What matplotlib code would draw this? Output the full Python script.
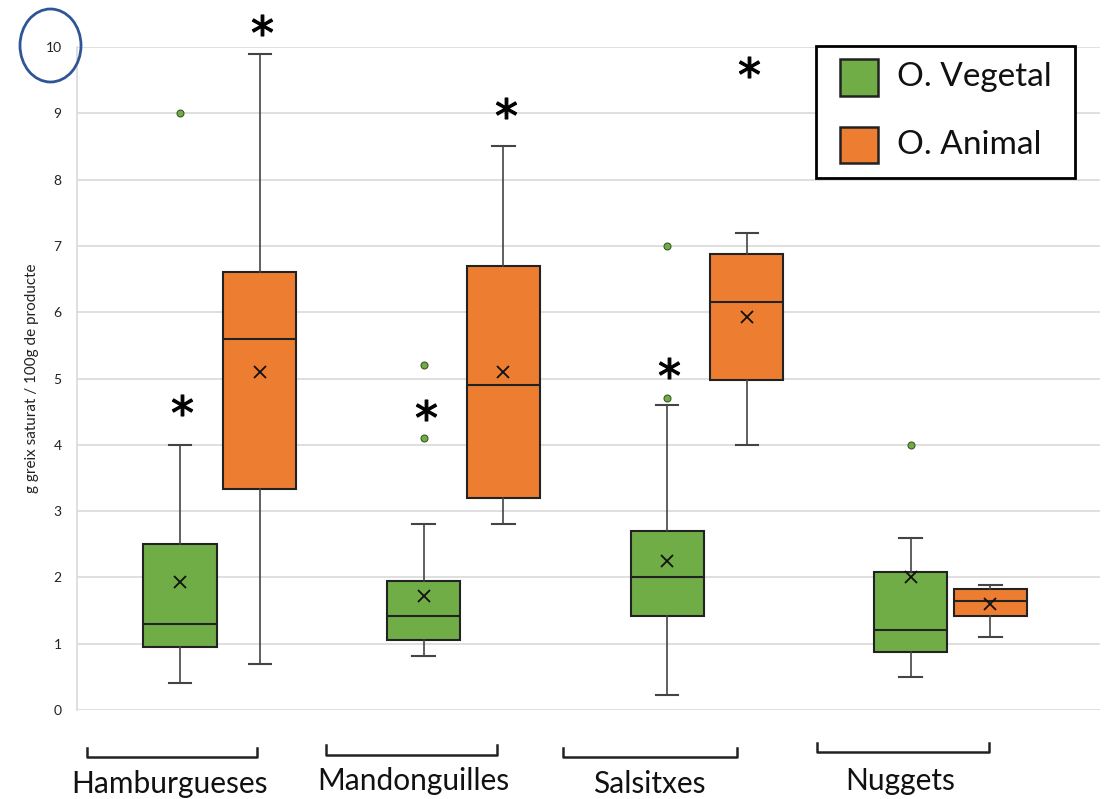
import matplotlib
matplotlib.use("Agg")
import matplotlib.pyplot as plt
from matplotlib.patches import Rectangle, Ellipse
from matplotlib.lines import Line2D

# ---- data -------------------------------------------------------------
categories = ["Hamburgueses", "Mandonguilles", "Salsitxes", "Nuggets"]

veg_whislo = [0.40, 0.82, 0.22, 0.50]
veg_q1     = [0.95, 1.05, 1.42, 0.88]
veg_med    = [1.30, 1.42, 2.00, 1.20]
veg_q3     = [2.50, 1.95, 2.70, 2.08]
veg_whishi = [4.00, 2.80, 4.60, 2.60]
veg_mean   = [1.93, 1.72, 2.25, 2.00]
veg_fliers = [[9.0], [5.2, 4.1], [7.0, 4.7], [4.0]]

ani_whislo = [0.70, 2.80, 4.00, 1.10]
ani_q1     = [3.33, 3.20, 4.98, 1.42]
ani_med    = [5.60, 4.90, 6.15, 1.65]
ani_q3     = [6.60, 6.70, 6.88, 1.82]
ani_whishi = [9.90, 8.50, 7.20, 1.88]
ani_mean   = [5.10, 5.10, 5.93, 1.60]
ani_fliers = [[], [], [], []]

# significance marks (height of the asterisk), None = no mark
sig_veg = [4.60, 4.52, 5.16, None]
sig_ani = [10.33, 9.08, 9.70, None]

yticks = list(range(0, 11))
ylabel = "g greix saturat / 100g de producte"
legend_labels = ["O. Vegetal", "O. Animal"]

GREEN = "#70AD47"
ORANGE = "#ED7D31"
FONT = ["Lato", "DejaVu Sans"]

W, H = 1107, 799
fig = plt.figure(figsize=(W / 100, H / 100), dpi=100)


def fx(px):
    return px / W


def fy(py):
    return 1 - py / H


ax = fig.add_axes([fx(77), fy(710), fx(1100) - fx(77), fy(47) - fy(710)])
ax.set_ylim(0, 10)
ax.set_xlim(-0.587, 3.614)

offset = 0.164
bw = 0.30


def stats(i, lo, q1, med, q3, hi, mean, fl):
    return dict(whislo=lo[i], q1=q1[i], med=med[i], q3=q3[i], whishi=hi[i],
                mean=mean[i], fliers=fl[i])


veg_stats = [stats(i, veg_whislo, veg_q1, veg_med, veg_q3, veg_whishi, veg_mean, veg_fliers)
             for i in range(len(categories))]
ani_stats = [stats(i, ani_whislo, ani_q1, ani_med, ani_q3, ani_whishi, ani_mean, ani_fliers)
             for i in range(len(categories))]

veg_pos = [i - offset for i in range(len(categories))]
ani_pos = [i + offset for i in range(len(categories))]

for st, pos, col in [(veg_stats, veg_pos, GREEN), (ani_stats, ani_pos, ORANGE)]:
    ax.bxp(st, positions=pos, widths=bw, capwidths=bw * 0.31,
           patch_artist=True, showmeans=True, manage_ticks=False,
           boxprops=dict(facecolor=col, edgecolor="#222222", linewidth=1.5),
           whiskerprops=dict(color="#444444", linewidth=1.2),
           capprops=dict(color="#444444", linewidth=1.5),
           medianprops=dict(color="#222222", linewidth=1.5),
           meanprops=dict(marker="x", markersize=9, markeredgecolor="#111111",
                          markeredgewidth=1.3),
           flierprops=dict(marker="o", markersize=5, markerfacecolor=GREEN,
                           markeredgecolor="#3a5a25", markeredgewidth=0.8),
           zorder=3)

# significance asterisks
for pos, sig in [(veg_pos, sig_veg), (ani_pos, sig_ani)]:
    for x, y in zip(pos, sig):
        if y is not None:
            ax.plot([x + 0.01], [y], marker="$*$", markersize=15, color="black",
                    markeredgewidth=0.9, linestyle="none", clip_on=False, zorder=5)

# axes styling
ax.set_yticks(yticks)
ax.set_yticklabels([str(t) for t in yticks], fontsize=10, family=FONT, color="#222222")
ax.tick_params(axis="y", length=0, pad=11)
ax.set_xticks([])
ax.grid(axis="y", color="#d9d9d9", linewidth=1.2, zorder=0)
ax.set_axisbelow(True)
for s in ["top", "right", "bottom"]:
    ax.spines[s].set_visible(False)
ax.spines["left"].set_color("#d9d9d9")
ax.spines["left"].set_linewidth(1.2)

fig.text(fx(32), fy(378), ylabel, rotation=90, ha="center", va="center",
         fontsize=11, family=FONT, color="#222222")

# category brackets and labels
brackets = [(87, 257, 748, 757), (326, 497, 745, 755), (563, 737, 748, 757), (817, 989, 743, 752)]
label_x = [170, 413, 649, 900]
label_y = [784, 781, 784, 781]
for (x0, x1, ytop, ybot), lx, ly, name in zip(brackets, label_x, label_y, categories):
    fig.add_artist(Line2D([fx(x0), fx(x0), fx(x1), fx(x1)],
                          [fy(ytop), fy(ybot), fy(ybot), fy(ytop)],
                          color="#222222", linewidth=1.8))
    fig.text(fx(lx), fy(ly), name, ha="center", va="center", fontsize=21.5,
             family=FONT, color="#111111")

# legend box
fig.add_artist(Rectangle((fx(816), fy(178)), fx(1075) - fx(816), fy(46) - fy(178),
                         transform=fig.transFigure, facecolor="white",
                         edgecolor="black", linewidth=2, zorder=6))
for (top, bot), col, lab in zip([(59, 96), (127, 163)], [GREEN, ORANGE], legend_labels):
    fig.add_artist(Rectangle((fx(840), fy(bot)), fx(878) - fx(840), fy(top) - fy(bot),
                             transform=fig.transFigure, facecolor=col,
                             edgecolor="#222222", linewidth=1.8, zorder=7))
    fig.text(fx(897), fy((top + bot) / 2), lab, ha="left", va="center",
             fontsize=24, family=FONT, color="#111111", zorder=7)

# highlight circle round the top tick
fig.add_artist(Ellipse((fx(50.5), fy(45.5)), fx(61), 73 / H, transform=fig.transFigure,
                       facecolor="none", edgecolor="#2F5597", linewidth=2, zorder=8))

fig.savefig("out.png", dpi=100)
